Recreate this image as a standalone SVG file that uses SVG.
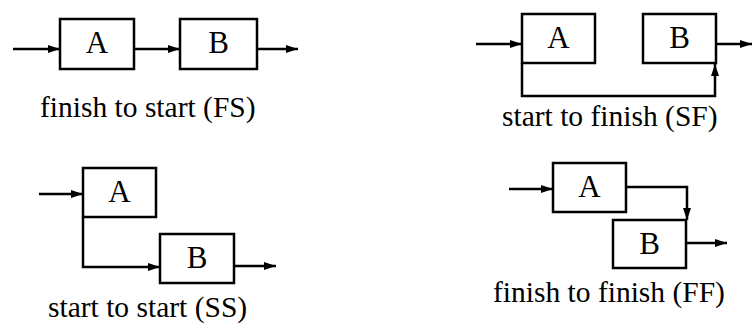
<svg xmlns="http://www.w3.org/2000/svg" width="753" height="327" viewBox="0 0 753 327">
<style>
.box{fill:#fff;stroke:#000;stroke-width:2.5}
.lbl{font-family:"Liberation Serif","Times New Roman",serif;font-size:31px;fill:#000;text-anchor:middle}
.cap{font-family:"Liberation Serif","Times New Roman",serif;font-size:29.5px;fill:#000}
.con{fill:none;stroke:#000;stroke-width:2.5;marker-end:url(#ah)}
</style>
<defs>
<marker id="ah" markerUnits="userSpaceOnUse" markerWidth="13" markerHeight="10" refX="12" refY="5" orient="auto">
<path d="M0,1 L12,5 L0,9 Z" fill="#000"/>
</marker>
</defs>
<rect width="753" height="327" fill="#fff"/>
<g id="connectors">
<path class="con" d="M13,49 H60"/>
<path class="con" d="M134,49 H180"/>
<path class="con" d="M257,49 H298"/>
<path class="con" d="M476,44 H522"/>
<path class="con" d="M716,44 H752"/>
<path class="con" d="M522,63 V96 H715 V64"/>
<path class="con" d="M39,194 H83"/>
<path class="con" d="M83,217 V267 H160"/>
<path class="con" d="M234,266 H276"/>
<path class="con" d="M509,189 H553"/>
<path class="con" d="M626,187 H687 V220"/>
<path class="con" d="M686,243 H727"/>
</g>
<g id="fs-a"><rect class="box" x="60" y="19" width="74" height="50"/><text class="lbl" x="97" y="53">A</text></g>
<g id="fs-b"><rect class="box" x="180" y="19" width="77" height="50"/><text class="lbl" x="218.5" y="53">B</text></g>
<g id="sf-a"><rect class="box" x="522" y="14" width="73" height="49"/><text class="lbl" x="558.5" y="48">A</text></g>
<g id="sf-b"><rect class="box" x="643" y="14" width="73" height="49"/><text class="lbl" x="679.5" y="48">B</text></g>
<g id="ss-a"><rect class="box" x="83" y="168" width="73" height="49"/><text class="lbl" x="119.5" y="202">A</text></g>
<g id="ss-b"><rect class="box" x="160" y="234" width="74" height="49"/><text class="lbl" x="197" y="268">B</text></g>
<g id="ff-a"><rect class="box" x="553" y="163" width="73" height="49"/><text class="lbl" x="589.5" y="197">A</text></g>
<g id="ff-b"><rect class="box" x="613" y="220" width="73" height="48"/><text class="lbl" x="649.5" y="254">B</text></g>
<g id="captions">
<text class="cap" x="40" y="117">finish to start (FS)</text>
<text class="cap" x="502" y="126">start to finish (SF)</text>
<text class="cap" x="48" y="317">start to start (SS)</text>
<text class="cap" x="493" y="302">finish to finish (FF)</text>
</g>
</svg>
